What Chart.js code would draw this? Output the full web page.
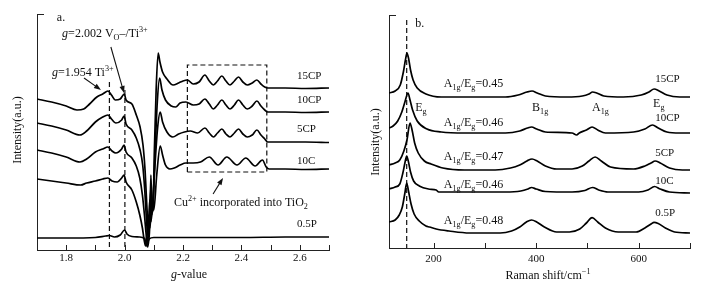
<!DOCTYPE html>
<html>
<head>
<meta charset="utf-8">
<script src="https://cdn.jsdelivr.net/npm/chart.js@4.4.1/dist/chart.umd.min.js"></script>
<style>
  body { margin: 0; background: #fff; }
  #wrap { position: relative; width: 716px; height: 291px; }
  canvas { position: absolute; top: 0; }
</style>
</head>
<body>
<div id="wrap">
  <canvas id="eprChart" width="358" height="291" style="left:0"></canvas>
  <canvas id="ramanChart" width="358" height="291" style="left:358px"></canvas>
</div>
<script>
// ---- a. EPR ----
const eprTicks = [1.8, 1.9, 2.0, 2.1, 2.2, 2.3, 2.4, 2.5, 2.6, 2.7];
const eprTickLabels = [1.8, 2.0, 2.2, 2.4, 2.6];
const eprSamples = ['15CP', '10CP', '5CP', '10C', '0.5P'];

// [g-value, intensity(a.u.)], curves stacked with offsets as in the figure
const epr15CP = [[1.700,151],[1.750,148],[1.800,144],[1.837,140],[1.860,141],[1.880,146],[1.905,153],[1.925,156],[1.943,159],[1.955,155],[1.968,150],[1.985,151],[1.995,155],[1.999,156],[2.005,150],[2.025,146],[2.040,135],[2.053,123],[2.063,105],[2.070,80],[2.076,45],[2.081,20],[2.084,10],[2.087,35],[2.090,75],[2.093,45],[2.097,38],[2.102,100],[2.108,160],[2.115,197],[2.121,188],[2.130,178],[2.145,171],[2.166,165],[2.185,167],[2.200,169],[2.215,170],[2.235,166],[2.255,168],[2.275,175],[2.290,169],[2.304,165],[2.318,169],[2.333,174],[2.347,169],[2.361,165],[2.376,169],[2.390,173],[2.405,168],[2.420,165],[2.437,167],[2.453,170],[2.467,166],[2.480,163],[2.490,162],[2.550,162],[2.620,161.5],[2.700,162]];
const epr10CP = [[1.700,127],[1.750,124],[1.800,120],[1.847,115],[1.870,119],[1.900,128],[1.925,133],[1.943,135],[1.955,131],[1.970,127],[1.990,130],[1.998,134],[2.005,126],[2.025,120],[2.040,112],[2.053,100],[2.062,85],[2.069,60],[2.075,30],[2.080,14],[2.085,30],[2.089,60],[2.093,35],[2.098,48],[2.104,95],[2.112,148],[2.120,172],[2.128,160],[2.140,150],[2.160,144],[2.175,143],[2.190,147],[2.210,148],[2.235,145],[2.255,146],[2.275,151],[2.290,146],[2.304,141],[2.318,145],[2.333,150],[2.347,145],[2.361,141],[2.376,145],[2.390,150],[2.405,145],[2.420,141],[2.437,144],[2.453,149],[2.467,144],[2.480,140],[2.490,138],[2.550,138],[2.620,137.5],[2.700,138]];
const epr5CP = [[1.700,100],[1.750,97],[1.800,93],[1.847,88],[1.870,91],[1.900,98],[1.925,101],[1.943,103],[1.957,99],[1.970,97],[1.990,101],[1.998,105],[2.005,98],[2.025,92],[2.040,84],[2.052,72],[2.061,55],[2.068,35],[2.074,15],[2.078,5],[2.082,22],[2.086,50],[2.090,28],[2.095,42],[2.103,80],[2.113,122],[2.122,138],[2.130,128],[2.145,118],[2.165,113],[2.185,116],[2.205,118],[2.225,119],[2.250,117],[2.275,122],[2.290,117],[2.304,113],[2.318,117],[2.333,121],[2.347,116],[2.361,113],[2.376,117],[2.390,121],[2.405,116],[2.420,113],[2.437,115],[2.453,120],[2.467,115],[2.480,111],[2.490,108],[2.550,108],[2.620,108],[2.700,107.5]];
const epr10C = [[1.700,71],[1.750,69],[1.800,67],[1.850,65],[1.870,67],[1.900,69],[1.925,71],[1.943,72],[1.957,69],[1.975,68],[1.990,72],[1.998,75],[2.005,68],[2.025,60],[2.040,48],[2.052,35],[2.061,22],[2.067,10],[2.072,4],[2.077,18],[2.082,35],[2.087,22],[2.093,48],[2.100,40],[2.110,75],[2.122,104],[2.130,95],[2.140,85],[2.155,81],[2.170,82],[2.190,85],[2.210,87],[2.235,87],[2.260,88],[2.290,93],[2.320,85],[2.350,93],[2.385,85],[2.415,92],[2.447,84],[2.472,90],[2.485,83],[2.495,81],[2.550,81],[2.620,80.5],[2.700,81]];
const epr05P = [[1.700,12],[1.800,12],[1.900,12.5],[1.935,14],[1.948,14.5],[1.965,13],[1.985,15],[2.000,20],[2.008,16],[2.025,13.5],[2.050,13],[2.068,11.5],[2.074,6],[2.079,3],[2.084,11],[2.100,12.5],[2.200,12.5],[2.400,12.5],[2.550,13],[2.700,13]];
const eprDashG = [1.948, 2.001];
const eprDashTop = [168, 160];
const eprBox = [[2.215,78],[2.215,185],[2.487,185],[2.487,78],[2.215,78]];

// ---- b. Raman ----
const ramanTicks = [200, 300, 400, 500, 600, 700];
const ramanTickLabels = [200, 400, 600];
const ramanRatios = ['0.45', '0.46', '0.47', '0.46', '0.48'];

// [Raman shift (cm-1), intensity(a.u.)]
const raman15CP = [[113,155],[125,157],[135,163],[141,176],[145,188],[148,195],[151,190],[155,178],[160,168],[168,160],[185,154],[215,151],[280,151],[340,151],[365,153],[382,156],[392,157],[402,155],[418,152],[460,151],[490,152],[503,154],[510,156],[518,155],[532,152],[570,151],[605,153],[620,156],[630,159],[640,157],[655,153],[680,151],[700,151]];
const raman10CP = [[113,120],[121,122],[130,127],[138,136],[144,146],[150,155],[154,148],[159,138],[168,127],[187,119],[215,116],[260,115],[340,115],[368,117],[383,120],[391,121],[401,119],[418,116],[470,115],[479,113],[484,115],[498,118],[509,121],[520,118],[535,115],[590,116],[612,119],[627,123],[638,120],[655,116],[680,115],[700,115]];
const raman5CP = [[113,83],[125,85],[134,88],[142,97],[148,108],[154,125],[158,118],[163,105],[170,95],[182,87],[195,84],[218,80],[260,78],[320,78],[350,80],[368,83],[382,87],[392,89],[402,87],[418,82],[440,79],[470,79],[490,82],[503,87],[515,91],[527,87],[545,81],[590,79],[612,82],[624,85],[632,87],[642,85],[660,80],[685,78],[700,78]];
const raman10C = [[113,59],[125,61],[134,64],[140,75],[144,85],[147.5,92],[151,86],[155,76],[161,67],[172,62],[190,59],[205,58],[210,56],[260,56],[340,56],[370,57],[384,59],[391,60.5],[400,59],[418,56.5],[470,56],[495,57.5],[510,60.5],[522,58],[540,56],[600,56],[618,58],[631,61.5],[642,59],[660,56],[700,55]];
const raman05P = [[113,26],[125,28],[133,33],[139,41],[144,55],[147.5,65],[151,57],[156,44],[162,34],[172,27],[185,22],[192,21],[205,19],[230,17],[270,15],[330,15],[352,17],[368,21],[381,26],[391,28],[401,26],[416,21],[440,16],[465,16],[485,19],[498,25],[509,30.3],[520,26],[535,20],[560,16],[595,16],[612,20],[624,24],[630,25.7],[638,24.5],[652,20],[670,16],[700,15]];
const ramanDash = [[147.5,228],[147.5,0]];

const FONT = '"Liberation Serif", "Times New Roman", serif';
const INK = '#111';

// 複数フォント混在のテキスト描画 (斜体・上付き・下付き)
function drawParts(ctx, parts, x, y, size, align) {
  const fontFor = m => (m === 'i' ? 'italic ' : '') + ((m === 'sub' || m === 'sup') ? size * 0.68 : size) + 'px ' + FONT;
  ctx.textBaseline = 'alphabetic';
  ctx.textAlign = 'left';
  let w = 0;
  parts.forEach(p => { ctx.font = fontFor(p[1]); w += ctx.measureText(p[0]).width; });
  let cx = align === 'center' ? x - w / 2 : x;
  parts.forEach(p => {
    ctx.font = fontFor(p[1]);
    const dy = p[1] === 'sub' ? size * 0.28 : (p[1] === 'sup' ? -size * 0.4 : 0);
    ctx.fillText(p[0], cx, y + dy);
    cx += ctx.measureText(p[0]).width;
  });
}

function drawArrow(ctx, x1, y1, x2, y2) {
  const ang = Math.atan2(y2 - y1, x2 - x1), L = 7, W = 2.6;
  const c = Math.cos(ang), s = Math.sin(ang);
  ctx.beginPath();
  ctx.moveTo(x1, y1);
  ctx.lineTo(x2 - L * c * 0.7, y2 - L * s * 0.7);
  ctx.stroke();
  ctx.beginPath();
  ctx.moveTo(x2, y2);
  ctx.lineTo(x2 - L * c + W * s, y2 - L * s - W * c);
  ctx.lineTo(x2 - L * c - W * s, y2 - L * s + W * c);
  ctx.closePath();
  ctx.fill();
}

// 軸の内向き目盛り・注釈などを描くプラグイン
function decorPlugin(cfg) {
  return {
    id: 'decor',
    afterDraw(chart) {
      const { ctx, chartArea: a, scales: { x, y } } = chart;
      const px = v => x.getPixelForValue(v);
      const py = v => y.getPixelForValue(v);
      ctx.save();
      ctx.strokeStyle = '#222';
      ctx.fillStyle = INK;
      ctx.lineWidth = 1;
      // inward ticks
      x.ticks.forEach(t => {
        const X = Math.round(px(t.value)) + 0.5;
        ctx.beginPath();
        ctx.moveTo(X, a.bottom);
        ctx.lineTo(X, a.bottom - 5);
        ctx.stroke();
      });
      // cap on top of y axis
      ctx.beginPath();
      ctx.moveTo(Math.round(a.left), Math.round(a.top) + 0.5);
      ctx.lineTo(Math.round(a.left) + 7, Math.round(a.top) + 0.5);
      ctx.stroke();
      // arrows
      ctx.strokeStyle = INK;
      ctx.lineWidth = 1.1;
      (cfg.arrows || []).forEach(ar => drawArrow(ctx, px(ar[0][0]), py(ar[0][1]), px(ar[1][0]), py(ar[1][1])));
      // texts in data coords
      (cfg.texts || []).forEach(t => drawParts(ctx, t.parts, px(t.at[0]), py(t.at[1]), t.size, t.align));
      // axis titles
      drawParts(ctx, cfg.xTitle.parts, cfg.xTitle.x, cfg.xTitle.y, 12, 'center');
      ctx.translate(cfg.yTitle.x, cfg.yTitle.y);
      ctx.rotate(-Math.PI / 2);
      drawParts(ctx, [['Intensity(a.u.)']], 0, 4, 12, 'center');
      ctx.restore();
    }
  };
}

function curve(points, extra) {
  return Object.assign({
    data: points.map(p => ({ x: p[0], y: p[1] })),
    borderColor: '#000',
    borderWidth: 1.7,
    pointRadius: 0,
    fill: false,
    cubicInterpolationMode: 'monotone'
  }, extra || {});
}

function dashed(points) {
  return curve(points, { borderWidth: 1.2, borderDash: [5, 3], tension: 0, cubicInterpolationMode: 'default', borderColor: '#111' });
}

function makeScales(xmin, xmax, ymax, ticks, labels, fmt, yWidth, xHeight, labelPad) {
  return {
    x: {
      type: 'linear', min: xmin, max: xmax,
      afterBuildTicks: s => { s.ticks = ticks.map(v => ({ value: v })); },
      afterFit: s => { s.height = xHeight; },
      ticks: {
        color: INK, padding: labelPad, maxRotation: 0, autoSkip: false,
        font: { family: FONT, size: 11 },
        callback: v => labels.some(l => Math.abs(l - v) < 1e-6) ? fmt(v) : ''
      },
      grid: { display: false, drawTicks: false },
      border: { display: true, color: '#222', width: 1 }
    },
    y: {
      min: 0, max: ymax,
      afterFit: s => { s.width = yWidth; },
      ticks: { display: false },
      grid: { display: false, drawTicks: false },
      border: { display: true, color: '#222', width: 1 }
    }
  };
}

const baseOptions = {
  responsive: false,
  animation: false,
  devicePixelRatio: 1,
  events: [],
  plugins: { legend: { display: false }, tooltip: { enabled: false } }
};

// a. EPR chart
const eprSeries = [epr15CP, epr10CP, epr5CP, epr10C, epr05P];
const eprLabelI = [171, 147, 118, 86, 23];
new Chart(document.getElementById('eprChart'), {
  type: 'line',
  data: {
    datasets: eprSeries.map(s => curve(s))
      .concat(eprDashG.map((g, i) => dashed([[g, eprDashTop[i]], [g, 0]])))
      .concat([dashed(eprBox)])
  },
  options: Object.assign({}, baseOptions, {
    layout: { padding: { top: 14, right: 29, left: 0, bottom: 0 } },
    scales: makeScales(1.7, 2.7, 236, eprTicks, eprTickLabels, v => v.toFixed(1), 37, 41, 2)
  }),
  plugins: [decorPlugin({
    xTitle: { parts: [['g', 'i'], ['-value']], x: 189, y: 278 },
    yTitle: { x: 17, y: 130 },
    arrows: [
      [[1.953, 203], [1.998, 157]],
      [[1.861, 172], [1.919, 160]],
      [[2.303, 56], [2.337, 72]]
    ],
    texts: [
      { parts: [['a.']], at: [1.768, 229], size: 12 },
      { parts: [['g', 'i'], ['=2.002 V'], ['O', 'sub'], ['–/Ti'], ['3+', 'sup']], at: [1.786, 213], size: 12 },
      { parts: [['g', 'i'], ['=1.954 Ti'], ['3+', 'sup']], at: [1.751, 174], size: 12 },
      { parts: [['Cu'], ['2+', 'sup'], [' incorporated into TiO'], ['2', 'sub']], at: [2.169, 44], size: 12 }
    ].concat(eprSamples.map((n, i) => ({ parts: [[n]], at: [2.59, eprLabelI[i]], size: 11 })))
  })]
});

// b. Raman chart
const ramanSeries = [raman15CP, raman10CP, raman5CP, raman10C, raman05P];
const ramanLabelI = [166, 127, 92, 64, 32];
const ramanRatioI = [161, 122, 88, 60, 24];
new Chart(document.getElementById('ramanChart'), {
  type: 'line',
  data: {
    datasets: ramanSeries.map(s => curve(s)).concat([dashed(ramanDash)])
  },
  options: Object.assign({}, baseOptions, {
    layout: { padding: { top: 15, right: 26, left: 0, bottom: 0 } },
    scales: makeScales(113, 700, 233, ramanTicks, ramanTickLabels, v => String(v), 31, 43, 5)
  }),
  plugins: [decorPlugin({
    xTitle: { parts: [['Raman shift/cm'], ['−1', 'sup']], x: 190, y: 279 },
    yTitle: { x: 17, y: 142 },
    texts: [
      { parts: [['b.']], at: [164, 221], size: 12 },
      { parts: [['E'], ['g', 'sub']], at: [164, 137], size: 12 },
      { parts: [['B'], ['1g', 'sub']], at: [392, 137], size: 12 },
      { parts: [['A'], ['1g', 'sub']], at: [509, 137], size: 12 },
      { parts: [['E'], ['g', 'sub']], at: [628, 141], size: 12 }
    ]
      .concat(ramanRatios.map((r, i) => ({ parts: [['A'], ['1g', 'sub'], ['/E'], ['g', 'sub'], ['=' + r]], at: [220, ramanRatioI[i]], size: 12 })))
      .concat(eprSamples.map((n, i) => ({ parts: [[n]], at: [632, ramanLabelI[i]], size: 11 })))
  })]
});
</script>
</body>
</html>
